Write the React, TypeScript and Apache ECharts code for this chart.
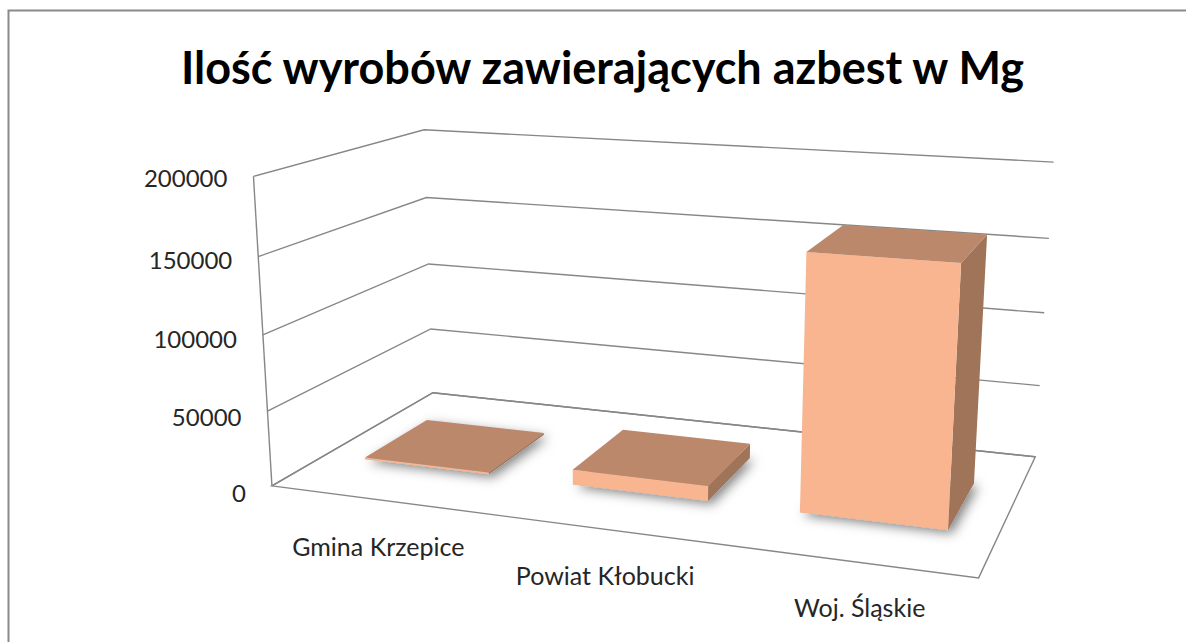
import React, { useEffect, useRef } from 'react';
import * as echarts from 'echarts';

// ---------- data ----------
const chartTitle = 'Ilość wyrobów zawierających azbest w Mg';
const categories = ['Gmina Krzepice', 'Powiat Kłobucki', 'Woj. Śląskie'];
const values = [1200, 10000, 163000];
const yTicks = [0, 50000, 100000, 150000, 200000];
const yMin = 0;
const yMax = 200000;
const yInterval = 50000;

// ---------- layout / style ----------
// camera calibration of the 3-D plot box: [u (across), v (up), z (depth), pageX, pageY]
const CAMERA_ANCHORS: number[][] = [
  [0, 0, 0, 271.7, 486.7], [0, 0.25, 0, 268.3, 411], [0, 0.5, 0, 262.3, 334.3], [0, 0.75, 0, 259.3, 255.7], [0, 1, 0, 252.7, 176.7],
  [0, 0, 1, 431.7, 392.7], [0, 0.25, 1, 431.7, 329], [0, 0.5, 1, 429, 264], [0, 0.75, 1, 426.7, 197.7], [0, 1, 1, 423.3, 130],
  [1, 0, 1, 1035, 456], [1, 0.25, 1, 1040, 386], [1, 0.5, 1, 1044.3, 312.7], [1, 0.75, 1, 1049.3, 238.3], [1, 1, 1, 1053.3, 162.3],
  [1, 0, 0, 978.3, 578.3],
];
const BAR_WIDTH_RATIO = 0.606; // of category band
const BAR_Z0 = 0.3;
const BAR_Z1 = 0.7;
const GRID_COLOR = '#878787';
const FRONT_COLOR = '#F9B590';
const TOP_COLOR = '#BC886B';
const SIDE_COLOR = '#A07459';
const TEXT_COLOR = '#262626';
const FONT = 'Lato, "Open Sans", sans-serif';

function solveCamera(anchors: number[][]): number[] {
  const S = 1000;
  const rows: number[][] = [];
  const rhs: number[] = [];
  for (const [u, v, z, X, Y] of anchors) {
    const x = X / S;
    const y = Y / S;
    rows.push([u, v, z, 1, 0, 0, 0, 0, -x * u, -x * v, -x * z]);
    rhs.push(x);
    rows.push([0, 0, 0, 0, u, v, z, 1, -y * u, -y * v, -y * z]);
    rhs.push(y);
  }
  const n = 11;
  const M: number[][] = [];
  for (let i = 0; i < n; i++) M.push(new Array(n + 1).fill(0));
  for (let r = 0; r < rows.length; r++) {
    for (let i = 0; i < n; i++) {
      for (let j = 0; j < n; j++) M[i][j] += rows[r][i] * rows[r][j];
      M[i][n] += rows[r][i] * rhs[r];
    }
  }
  for (let c = 0; c < n; c++) {
    let piv = c;
    for (let r = c + 1; r < n; r++) if (Math.abs(M[r][c]) > Math.abs(M[piv][c])) piv = r;
    const tmp = M[c]; M[c] = M[piv]; M[piv] = tmp;
    for (let r = 0; r < n; r++) {
      if (r === c) continue;
      const f = M[r][c] / M[c][c];
      for (let k = c; k <= n; k++) M[r][k] -= f * M[c][k];
    }
  }
  return M.map((row, i) => row[n] / row[i]);
}

const CAM = solveCamera(CAMERA_ANCHORS);
function proj(u: number, v: number, z: number): number[] {
  const w = CAM[8] * u + CAM[9] * v + CAM[10] * z + 1;
  const x = (CAM[0] * u + CAM[1] * v + CAM[2] * z + CAM[3]) / w;
  const y = (CAM[4] * u + CAM[5] * v + CAM[6] * z + CAM[7]) / w;
  return [x * 1000, y * 1000];
}

function normV(cs: any, py: number) {
  return (cs.y + cs.height - py) / cs.height;
}

export default function App() {
  const ref = useRef<HTMLDivElement>(null);
  useEffect(() => {
    if (!ref.current) return;
    const chart = echarts.init(ref.current, null, { renderer: 'svg' });

    const wallRender = (params: any, api: any) => {
      const cs = params.coordSys;
      const tick = api.value(1);
      const pt = api.coord([0, tick]);
      const v = normV(cs, pt[1]);
      const lineStyle = { stroke: GRID_COLOR, lineWidth: 1.4, fill: null };
      const children: any[] = [
        { type: 'polyline', shape: { points: [proj(0, v, 0), proj(0, v, 1), proj(1, v, 1)] }, style: lineStyle },
      ];
      const lp = proj(0, v, 0);
      children.push({
        type: 'text',
        x: lp[0] - 26,
        y: lp[1] + 1.6 + 5 * (1 - v),
        style: {
          text: String(tick), textAlign: 'right', textVerticalAlign: 'middle',
          font: `24px ${FONT}`, fill: TEXT_COLOR,
        },
      });
      if (params.dataIndex === 0) {
        const top = api.coord([0, yMax]);
        const vt = normV(cs, top[1]);
        children.push({
          type: 'polygon',
          shape: { points: [proj(0, v, 0), proj(1, v, 0), proj(1, v, 1), proj(0, v, 1)] },
          style: lineStyle,
        });
        const a = proj(0, v, 0);
        const b = proj(0, vt, 0);
        children.push({
          type: 'line',
          shape: { x1: a[0], y1: a[1], x2: b[0], y2: b[1] },
          style: lineStyle,
        });
      }
      return { type: 'group', children };
    };

    const barRender = (params: any, api: any) => {
      const cs = params.coordSys;
      const idx = api.value(0);
      const val = api.value(1);
      const pt = api.coord([idx, val]);
      const base = api.coord([idx, yMin]);
      const uc = (pt[0] - cs.x) / cs.width;
      const v = normV(cs, pt[1]);
      const v0 = normV(cs, base[1]);
      const band = api.size([1, 0])[0] / cs.width;
      const half = (band * BAR_WIDTH_RATIO) / 2;
      const u0 = uc - half;
      const u1 = uc + half;
      const z0 = BAR_Z0;
      const z1 = BAR_Z1;
      const footprint = [proj(u0, v0, z0), proj(u1, v0, z0), proj(u1, v0, z1), proj(u0, v0, z1)];
      const front = [proj(u0, v0, z0), proj(u1, v0, z0), proj(u1, v, z0), proj(u0, v, z0)];
      const side = [proj(u1, v0, z0), proj(u1, v0, z1), proj(u1, v, z1), proj(u1, v, z0)];
      const topF = [proj(u0, v, z0), proj(u1, v, z0), proj(u1, v, z1), proj(u0, v, z1)];
      const lab = proj(uc, v0, 0);
      const t = 3 * uc - 0.5;
      const dx = 2 + 0.25 * t + 2.75 * t * t;
      return {
        type: 'group',
        children: [
          {
            type: 'polygon', shape: { points: footprint },
            style: { fill: '#b0b0b0', shadowBlur: 12, shadowColor: 'rgba(0,0,0,0.5)', shadowOffsetX: 4, shadowOffsetY: 3 },
          },
          { type: 'polygon', shape: { points: side }, style: { fill: SIDE_COLOR } },
          { type: 'polygon', shape: { points: front }, style: { fill: FRONT_COLOR } },
          { type: 'polygon', shape: { points: topF }, style: { fill: TOP_COLOR } },
          {
            type: 'text', x: lab[0] + dx, y: lab[1] + 46.5,
            style: {
              text: categories[idx], textAlign: 'center', textVerticalAlign: 'middle',
              font: `25px ${FONT}`, fill: TEXT_COLOR,
            },
          },
        ],
      };
    };

    chart.setOption({
      animation: false,
      backgroundColor: '#ffffff',
      title: {
        text: chartTitle,
        left: 181,
        top: 44,
        padding: 0,
        textStyle: { fontFamily: FONT, fontWeight: 'bold', fontSize: 45, color: '#000000' },
      },
      graphic: [
        {
          type: 'rect',
          shape: { x: 8.5, y: 10.5, width: 1400, height: 900 },
          style: { fill: null, stroke: '#8a8a8a', lineWidth: 2 },
          silent: true,
        },
      ],
      grid: { left: 100, top: 100, width: 900, height: 400, show: false },
      xAxis: { type: 'category', data: categories, show: false },
      yAxis: { type: 'value', min: yMin, max: yMax, interval: yInterval, show: false },
      series: [
        { type: 'custom', name: 'walls', renderItem: wallRender, data: yTicks.map((t) => [0, t]), z: 1, silent: true },
        { type: 'custom', name: 'Ilość [Mg]', renderItem: barRender, data: values.map((v, i) => [i, v]), z: 2 },
      ],
    });
    return () => chart.dispose();
  }, []);
  return <div ref={ref} style={{ position: 'absolute', left: 0, top: 0, width: 1186, height: 642 }} />;
}
